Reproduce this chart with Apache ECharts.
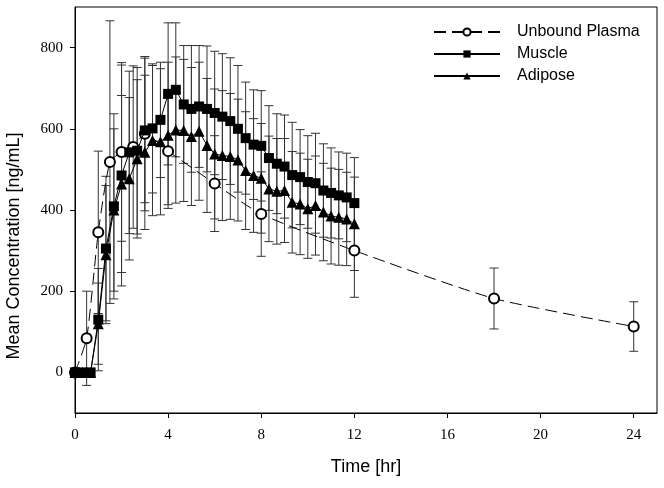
<!DOCTYPE html>
<html>
<head>
<meta charset="utf-8">
<script src="https://cdn.jsdelivr.net/npm/echarts@6/dist/echarts.min.js"></script>
<style>html,body{margin:0;padding:0;background:#fff}#c{width:664px;height:488px}</style>
</head>
<body>
<div id="c"></div>
<script>
// Unbound plasma
const plasmaTime = [0, 0.5, 1, 1.5, 2, 2.5, 3, 4, 6, 8, 12, 18, 24];
const plasmaMean = [0, 84, 345, 518, 543, 555, 588, 545, 465, 390, 300, 182, 113];
const plasmaSD   = [0, 116, 200, 348, 220, 200, 190, 132, 118, 104, 115, 75, 61];

// Muscle and adipose (microdialysis, 20-min intervals)
const tissueTime = [0, 0.33, 0.67, 1, 1.33, 1.67, 2, 2.33, 2.67, 3, 3.33, 3.67, 4, 4.33, 4.67, 5, 5.33, 5.67, 6, 6.33, 6.67, 7, 7.33, 7.67, 8, 8.33, 8.67, 9, 9.33, 9.67, 10, 10.33, 10.67, 11, 11.33, 11.67, 12];
const muscleMean = [0, 0, 0, 130, 305, 409, 485, 542, 546, 596, 601, 622, 686, 696, 660, 649, 655, 649, 639, 630, 619, 600, 577, 561, 558, 528, 514, 507, 486, 481, 469, 466, 448, 442, 436, 431, 417];
const muscleSD   = [0, 0, 0, 126, 178, 228, 272, 200, 205, 178, 159, 142, 175, 165, 145, 156, 150, 155, 152, 155, 156, 156, 138, 135, 136, 129, 123, 127, 130, 117, 114, 123, 115, 111, 107, 109, 112];
const adiposeMean = [0, 0, 0, 120, 290, 400, 464, 477, 526, 542, 571, 568, 584, 597, 596, 581, 594, 559, 538, 534, 532, 523, 497, 485, 478, 452, 446, 448, 419, 415, 403, 411, 395, 385, 382, 378, 366];
const adiposeSD   = [0, 0, 0, 100, 170, 200, 218, 200, 195, 190, 185, 180, 180, 180, 175, 170, 170, 165, 160, 160, 155, 150, 145, 140, 135, 130, 130, 128, 125, 125, 122, 122, 120, 118, 118, 115, 115];

const seriesNames = ['Unbound Plasma', 'Muscle', 'Adipose'];
const xTitle = 'Time [hr]';
const yTitle = 'Mean Concentration [ng/mL]';
const xTicks = [0, 4, 8, 12, 16, 20, 24];
const yTicks = [0, 200, 400, 600, 800];

function pairs(t, m) { return t.map((v, i) => [v, m[i]]); }
function bars(t, m, s) {
  const out = [];
  t.forEach((v, i) => { if (s[i] > 0) out.push([v, m[i] - s[i], m[i] + s[i]]); });
  return out;
}

function renderBar(params, api) {
  const x = api.value(0), lo = api.value(1), hi = api.value(2);
  const a = api.coord([x, hi]), b = api.coord([x, lo]);
  const w = 4.5;
  const st = { stroke: '#333', lineWidth: 1 };
  return {
    type: 'group',
    children: [
      { type: 'line', shape: { x1: a[0], y1: a[1], x2: b[0], y2: b[1] }, style: st },
      { type: 'line', shape: { x1: a[0] - w, y1: a[1], x2: a[0] + w, y2: a[1] }, style: st },
      { type: 'line', shape: { x1: b[0] - w, y1: b[1], x2: b[0] + w, y2: b[1] }, style: st }
    ]
  };
}

function errSeries(data) {
  return {
    type: 'custom', data: data, renderItem: renderBar, z: 1, silent: true,
    encode: { x: 0, y: [1, 2] }, legendHoverLink: false
  };
}

const chart = echarts.init(document.getElementById('c'), null, { renderer: 'canvas' });
chart.setOption({
  animation: false,
  backgroundColor: '#fff',
  grid: { left: 75, right: 7, top: 7, bottom: 75, show: true, borderColor: '#000', borderWidth: 1, backgroundColor: 'transparent' },
  graphic: [{
    type: 'text', x: 14, y: 246, rotation: Math.PI / 2,
    style: { text: yTitle, fontFamily: 'Liberation Sans', fontSize: 18, fill: '#000', align: 'center', verticalAlign: 'middle' }
  }],
  legend: {
    data: seriesNames,
    orient: 'vertical',
    left: 433, top: 24, padding: 0,
    itemWidth: 66, itemHeight: 9, itemGap: 6,
    textStyle: { fontFamily: 'Liberation Sans', fontSize: 16, color: '#000', lineHeight: 16, padding: [0, 0, 0, 12] }
  },
  xAxis: {
    type: 'value', min: 0, max: 25, interval: 4,
    name: xTitle, nameLocation: 'middle', nameGap: 45,
    nameTextStyle: { fontFamily: 'Liberation Sans', fontSize: 18, color: '#000' },
    axisLine: { show: true, onZero: false, lineStyle: { color: '#000', width: 1 } },
    axisTick: { show: true, inside: false, length: 5, customValues: xTicks, lineStyle: { color: '#000' } },
    axisLabel: { customValues: xTicks, margin: 15, fontFamily: 'Liberation Serif', fontSize: 15, color: '#000' },
    splitLine: { show: false }
  },
  yAxis: {
    type: 'value', min: -100, max: 900, interval: 200,
    axisLine: { show: true, onZero: false, lineStyle: { color: '#000', width: 1 } },
    axisTick: { show: true, inside: false, length: 5, customValues: yTicks, lineStyle: { color: '#000' } },
    axisLabel: { customValues: yTicks, margin: 12, fontFamily: 'Liberation Serif', fontSize: 15, color: '#000' },
    splitLine: { show: false }
  },
  series: [
    errSeries(bars(plasmaTime, plasmaMean, plasmaSD)),
    errSeries(bars(tissueTime, muscleMean, muscleSD)),
    errSeries(bars(tissueTime, adiposeMean, adiposeSD)),
    {
      name: seriesNames[0], type: 'line', data: pairs(plasmaTime, plasmaMean), z: 3,
      smooth: 0.2,
      symbol: 'emptyCircle', symbolSize: 10,
      lineStyle: { color: '#000', width: 1, type: [12, 6] },
      itemStyle: { color: '#000', borderColor: '#000', borderWidth: 1 }
    },
    {
      name: seriesNames[1], type: 'line', data: pairs(tissueTime, muscleMean), z: 4,
      symbol: 'rect', symbolSize: 10,
      lineStyle: { color: '#000', width: 1 },
      itemStyle: { color: '#000' }
    },
    {
      name: seriesNames[2], type: 'line', data: pairs(tissueTime, adiposeMean), z: 5,
      symbol: 'triangle', symbolSize: 11,
      lineStyle: { color: '#000', width: 1 },
      itemStyle: { color: '#000' }
    }
  ]
});
</script>
</body>
</html>
